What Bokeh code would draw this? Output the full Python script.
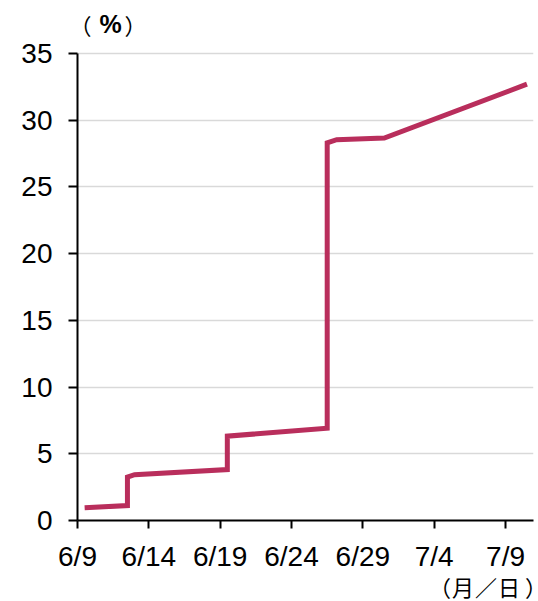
from datetime import datetime

from bokeh.embed import file_html
from bokeh.layouts import column
from bokeh.models import (ColumnDataSource, CustomJSTickFormatter, Div,
                          FixedTicker, Label, Range1d)
from bokeh.plotting import figure
from bokeh.resources import INLINE

# Share (%) over time, with step jumps on a few days
times = ["2020-06-09 12:00", "2020-06-12 12:00", "2020-06-12 12:00",
         "2020-06-13 00:00", "2020-06-19 12:00", "2020-06-19 12:00",
         "2020-06-26 12:00", "2020-06-26 12:00", "2020-06-27 04:00",
         "2020-06-30 12:00", "2020-07-10 12:00"]
values = [0.95, 1.12, 3.25, 3.43, 3.82, 6.32, 6.92, 28.31, 28.54, 28.66, 32.7]

tick_dates = ["2020-06-09", "2020-06-14", "2020-06-19", "2020-06-24",
              "2020-06-29", "2020-07-04", "2020-07-09"]
y_ticks = [0, 5, 10, 15, 20, 25, 30, 35]

y_unit = "%"
x_unit_body = "（月／日"
x_unit_close = "）"

fmt = "%Y-%m-%d %H:%M"
x = [datetime.strptime(t, fmt) for t in times]
epoch = datetime(1970, 1, 1)
tick_ms = [(datetime.strptime(d, "%Y-%m-%d") - epoch).total_seconds() * 1000
           for d in tick_dates]

source = ColumnDataSource(dict(x=x, y=values))

start = datetime(2020, 6, 9)
end = datetime(2020, 7, 10, 23, 0)

# the frame reaches a little above the 35 line so the unit caption fits inside
axis_px = 467          # pixels from 0 to 35
head_px = 48           # extra room above 35
y_top = 35 + head_px * 35 / axis_px

p = figure(frame_width=456, frame_height=axis_px + head_px,
           x_axis_type="datetime",
           x_range=Range1d(start, end), y_range=Range1d(0, y_top),
           output_backend="svg", toolbar_location=None,
           min_border_left=77, min_border_right=5,
           min_border_top=5, min_border_bottom=55, margin=0)
p.outline_line_color = None
p.background_fill_color = "white"
p.border_fill_color = "white"

p.line("x", "y", source=source, line_color="#b92e5c", line_width=5,
       line_join="miter")

# grid: horizontal lines only
p.xgrid.grid_line_color = None
p.ygrid.grid_line_color = "#d9d9d9"
p.ygrid.grid_line_width = 1.5

font = "Liberation Sans"

p.xaxis.ticker = FixedTicker(ticks=tick_ms)
p.xaxis.formatter = CustomJSTickFormatter(code="""
    const d = new Date(tick);
    return (d.getUTCMonth() + 1) + "/" + d.getUTCDate();
""")
p.yaxis.ticker = FixedTicker(ticks=y_ticks)
p.yaxis.bounds = (0, 35)

for ax in (p.xaxis, p.yaxis):
    ax.axis_line_color = "black"
    ax.axis_line_width = 2
    ax.major_tick_line_color = "black"
    ax.major_tick_line_width = 2
    ax.major_tick_in = 0
    ax.minor_tick_line_color = None
    ax.major_label_text_font = font
    ax.major_label_text_font_size = "28px"
    ax.major_label_text_color = "black"

p.xaxis.major_tick_out = 8
p.xaxis.major_label_standoff = 12
p.yaxis.major_tick_out = 9
p.yaxis.major_label_standoff = 16

# y unit caption "（%）" at the top left of the frame
cjk = "Noto Sans CJK JP"
cap_y = axis_px + head_px - 18    # screen y of the caption's middle
p.add_layout(Label(x=3, y=cap_y, x_units="screen", y_units="screen",
                   text="（", text_font=cjk, text_font_size="22px",
                   text_align="center", text_baseline="middle",
                   text_color="black"))
p.add_layout(Label(x=33, y=cap_y, x_units="screen", y_units="screen",
                   text=y_unit, text_font=font, text_font_size="25px",
                   text_font_style="bold", text_align="center",
                   text_baseline="middle", text_color="black"))
p.add_layout(Label(x=58, y=cap_y, x_units="screen", y_units="screen",
                   text="）", text_font=cjk, text_font_size="22px",
                   text_align="center", text_baseline="middle",
                   text_color="black"))

# x unit caption under the date labels
bottom = Div(width=538, height=26, margin=0, text=(
    '<div style="font-family:\'Liberation Sans\', \'Noto Sans CJK JP\', sans-serif; '
    'font-size:22px; line-height:22px; letter-spacing:1px; padding-top:3px; '
    'padding-left:429px; white-space:nowrap; color:black">'
    f'{x_unit_body}<span style="letter-spacing:0; margin-left:4px; '
    f'font-feature-settings:\'halt\'">{x_unit_close}</span></div>'))

layout = column(p, bottom, spacing=0, margin=0)

open("out.html", "w").write(file_html(layout, INLINE))
